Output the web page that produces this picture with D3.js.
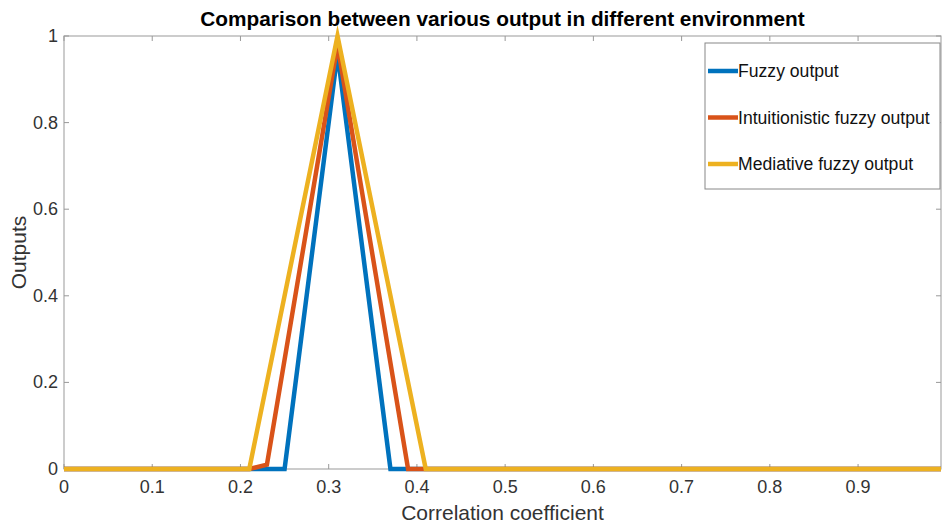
<!DOCTYPE html>
<html>
<head>
<meta charset="utf-8">
<script src="https://cdn.jsdelivr.net/npm/d3@7"></script>
<style>
	body { margin: 0; background: white; }
	svg { display: block; font-family: "Liberation Sans", Arial, sans-serif; }
</style>
</head>
<body>
<div id="container"></div>
<script>
// breakpoints of each output
const fuzzyX = [0, 0.25, 0.31, 0.37, 0.994];
const fuzzyY = [0, 0, 0.96, 0, 0];
const intuitX = [0, 0.21, 0.23, 0.31, 0.39, 0.994];
const intuitY = [0, 0, 0.01, 0.98, 0, 0];
const mediativeX = [0, 0.21, 0.31, 0.41, 0.994];
const mediativeY = [0, 0, 1, 0, 0];

const seriesNames = ['Fuzzy output', 'Intuitionistic fuzzy output', 'Mediative fuzzy output'];
const seriesColors = ['#0072BD', '#D95319', '#EDB120'];
const xTicks = [0, 0.1, 0.2, 0.3, 0.4, 0.5, 0.6, 0.7, 0.8, 0.9];
const yTicks = [0, 0.2, 0.4, 0.6, 0.8, 1];

const W = 942, H = 527;
const margin = {top: 36, right: 1, bottom: 58, left: 64};

const svg = d3.select('#container').append('svg')
	.attr('width', W)
	.attr('height', H);

const x = d3.scaleLinear().domain([0, 0.994]).range([margin.left, W - margin.right]);
const y = d3.scaleLinear().domain([0, 1]).range([H - margin.bottom, margin.top]);

const AXIS = '#999';
const TEXT = '#333';
const TICK = 5;

// box
svg.append('rect')
	.attr('x', x(0)).attr('y', y(1))
	.attr('width', x(0.994) - x(0)).attr('height', y(0) - y(1))
	.attr('fill', 'none').attr('stroke', AXIS).attr('stroke-width', 1);

// ticks (inward, on both sides like matlab)
xTicks.forEach(t => {
	svg.append('line').attr('x1', x(t)).attr('x2', x(t))
		.attr('y1', y(0)).attr('y2', y(0) - TICK).attr('stroke', AXIS);
	svg.append('line').attr('x1', x(t)).attr('x2', x(t))
		.attr('y1', y(1)).attr('y2', y(1) + TICK).attr('stroke', AXIS);
	svg.append('text')
		.attr('x', x(t)).attr('y', y(0) + 24)
		.attr('text-anchor', 'middle')
		.attr('font-size', 18).attr('fill', TEXT)
		.text(t);
});
yTicks.forEach(t => {
	svg.append('line').attr('x1', x(0)).attr('x2', x(0) + TICK)
		.attr('y1', y(t)).attr('y2', y(t)).attr('stroke', AXIS);
	svg.append('line').attr('x1', x(0.994)).attr('x2', x(0.994) - TICK)
		.attr('y1', y(t)).attr('y2', y(t)).attr('stroke', AXIS);
	svg.append('text')
		.attr('x', x(0) - 6).attr('y', y(t) + 6)
		.attr('text-anchor', 'end')
		.attr('font-size', 18).attr('fill', TEXT)
		.text(t);
});

// lines
const line = d3.line().x(d => x(d[0])).y(d => y(d[1]));
const series = [
	d3.zip(fuzzyX, fuzzyY),
	d3.zip(intuitX, intuitY),
	d3.zip(mediativeX, mediativeY)
];
series.forEach((pts, i) => {
	svg.append('path')
		.attr('d', line(pts))
		.attr('fill', 'none')
		.attr('stroke', seriesColors[i])
		.attr('stroke-width', 4.5)
		.attr('stroke-linejoin', 'miter')
		.attr('stroke-miterlimit', 20);
});

// title and labels
svg.append('text')
	.attr('x', (x(0) + x(0.994)) / 2).attr('y', 26)
	.attr('text-anchor', 'middle')
	.attr('font-size', 20.8).attr('font-weight', 'bold').attr('fill', '#000')
	.text('Comparison between various output in different environment');
svg.append('text')
	.attr('x', (x(0) + x(0.994)) / 2).attr('y', 520)
	.attr('text-anchor', 'middle')
	.attr('font-size', 21).attr('fill', TEXT)
	.text('Correlation coefficient');
svg.append('text')
	.attr('transform', `translate(26,${(y(0) + y(1)) / 2}) rotate(-90)`)
	.attr('text-anchor', 'middle')
	.attr('font-size', 21).attr('fill', TEXT)
	.text('Outputs');

// legend
const lg = svg.append('g').attr('transform', 'translate(705,43)');
lg.append('rect')
	.attr('width', 235).attr('height', 146)
	.attr('fill', 'white').attr('stroke', '#888');
seriesNames.forEach((name, i) => {
	const ly = 28 + i * 46.5;
	lg.append('line')
		.attr('x1', 3).attr('x2', 33).attr('y1', ly).attr('y2', ly)
		.attr('stroke', seriesColors[i]).attr('stroke-width', 4.5);
	lg.append('text')
		.attr('x', 33).attr('y', ly + 6)
		.attr('font-size', 17.6).attr('fill', '#111')
		.text(name);
});
</script>
</body>
</html>
